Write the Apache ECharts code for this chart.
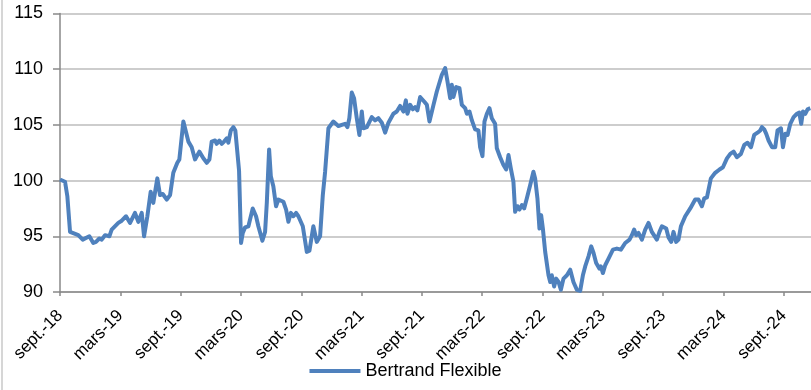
<!DOCTYPE html>
<html>
<head>
<meta charset="utf-8">
<script src="https://cdn.jsdelivr.net/npm/echarts@6/dist/echarts.min.js"></script>
<style>html,body{margin:0;padding:0;background:#fff}#c{width:811px;height:390px}</style>
</head>
<body>
<div id="c"></div>
<script>
// Tick labels every 6 months starting at sept. 2018
const tickLabels = ['sept.-18','mars-19','sept.-19','mars-20','sept.-20','mars-21','sept.-21','mars-22','sept.-22','mars-23','sept.-23','mars-24','sept.-24'];
const seriesName = 'Bertrand Flexible';
// x: months elapsed since September 2018
const months = [0.0,0.5,0.73,1.0,1.16,1.82,2.26,2.92,3.31,3.58,3.91,4.15,4.48,4.91,5.14,5.8,6.14,6.57,6.97,7.46,7.79,8.13,8.36,8.69,9.02,9.28,9.68,9.95,10.22,10.62,10.95,11.27,11.67,11.87,12.27,12.77,13.1,13.43,13.86,14.26,14.6,14.86,15.09,15.42,15.59,15.85,16.09,16.32,16.59,16.75,16.99,17.24,17.44,17.81,18.01,18.18,18.41,18.74,19.17,19.5,19.73,19.9,20.13,20.4,20.57,20.8,20.97,21.22,21.49,21.72,22.22,22.49,22.72,22.96,23.21,23.48,23.71,24.15,24.55,24.81,25.2,25.54,25.87,26.14,26.37,26.7,27.19,27.69,28.03,28.36,28.59,28.78,29.02,29.25,29.52,29.78,30.02,30.18,30.52,31.01,31.34,31.67,32.01,32.34,32.67,33.16,33.5,33.83,34.16,34.4,34.56,34.83,35.09,35.32,35.55,35.82,36.22,36.49,36.75,37.15,37.48,37.98,38.31,38.54,38.81,38.97,39.13,39.4,39.73,39.97,40.3,40.47,40.73,40.97,41.29,41.62,41.79,42.02,42.22,42.46,42.72,42.95,43.28,43.45,43.78,44.11,44.38,44.61,44.84,45.1,45.27,45.5,45.7,45.94,46.17,46.43,46.77,47.09,47.26,47.49,47.69,47.86,48.03,48.26,48.59,48.76,48.92,49.15,49.35,49.59,49.82,50.08,50.42,50.75,51.07,51.41,51.74,52.01,52.24,52.57,52.84,53.07,53.33,53.66,53.8,54.0,54.23,54.56,55.0,55.39,55.79,56.22,56.65,56.88,57.11,57.31,57.54,57.88,58.21,58.54,58.87,59.37,59.63,59.87,60.3,60.53,60.8,61.02,61.29,61.52,61.76,62.19,62.69,63.18,63.51,63.85,64.08,64.35,64.74,65.17,65.6,65.94,66.34,66.67,67.0,67.33,67.73,68.06,68.39,68.73,69.05,69.38,69.65,69.82,70.05,70.25,70.48,70.82,71.14,71.37,71.71,71.91,72.14,72.37,72.64,72.97,73.3,73.53,73.73,73.9,74.13,74.36,74.63];
const values = [100.1,99.9,98.6,95.4,95.3,95.1,94.7,95.0,94.4,94.5,94.8,94.7,95.1,95.0,95.6,96.2,96.4,96.8,96.2,97.1,96.3,97.1,95.0,96.8,99.0,98.0,100.2,98.7,98.8,98.3,98.7,100.7,101.6,101.9,105.3,103.5,103.0,101.9,102.6,102.0,101.6,101.9,103.5,103.6,103.3,103.6,103.3,103.5,103.8,103.4,104.5,104.8,104.5,100.9,94.4,95.3,95.8,95.9,97.5,96.8,95.9,96.0,94.6,95.4,98.0,102.8,100.4,99.5,97.7,98.3,98.1,97.4,96.3,97.1,96.8,97.1,96.8,95.9,93.6,93.7,95.9,94.5,95.0,98.7,100.8,104.7,105.3,104.9,105.0,105.1,104.8,105.6,107.9,107.4,105.6,104.1,106.2,104.7,104.8,105.7,105.4,105.6,105.2,104.3,105.2,106.0,106.2,106.7,106.2,107.2,106.0,106.8,106.4,106.6,106.3,107.5,107.1,106.8,105.3,106.8,108.0,109.5,110.1,108.9,107.4,108.6,107.5,108.4,108.3,106.8,106.5,106.0,106.2,105.4,104.6,104.5,103.0,102.2,105.3,106.0,106.5,105.6,105.1,102.9,102.1,101.4,101.0,102.3,101.1,99.9,97.2,97.7,97.4,97.8,97.5,98.4,99.6,100.8,100.2,98.4,95.7,96.9,95.7,93.6,91.5,90.9,91.5,90.5,91.2,90.9,90.2,91.2,91.5,92.0,90.9,90.2,90.1,91.5,92.3,93.2,94.1,93.5,92.6,92.1,92.3,91.7,92.4,93.0,93.8,93.9,93.8,94.4,94.7,95.1,95.6,95.1,95.3,94.7,95.6,96.2,95.4,94.7,95.4,95.9,95.7,94.9,94.5,95.4,94.5,94.7,95.9,96.8,97.5,98.3,98.3,97.7,98.4,98.5,100.2,100.7,101.0,101.2,102.0,102.4,102.6,102.1,102.4,103.2,103.4,103.0,104.1,104.3,104.5,104.8,104.6,104.2,103.6,103.0,103.0,104.5,104.7,103.0,104.2,104.1,105.1,105.7,106.0,106.1,105.1,106.2,106.0,106.4,106.5];

const chart = echarts.init(document.getElementById('c'), null, {renderer: 'canvas'});
const FONT = 'Liberation Sans';
chart.setOption({
  animation: false,
  backgroundColor: '#ffffff',
  textStyle: {fontFamily: FONT},
  graphic: [{type: 'line', shape: {x1: 2, y1: 0, x2: 2, y2: 390}, style: {stroke: '#c8c8c8', lineWidth: 1.5}}],
  grid: {left: 60, right: 0, top: 13.5, bottom: 98, containLabel: false, outerBoundsMode: 'none'},
  legend: {
    bottom: 5, left: 'center',
    icon: 'rect',
    itemWidth: 51, itemHeight: 4, itemGap: 10,
    textStyle: {fontSize: 18, color: '#000', fontFamily: FONT, padding: [0, 0, 0, 0]},
    data: [seriesName]
  },
  xAxis: {
    type: 'value', min: 0, max: 74.7, interval: 6,
    axisLine: {show: true, lineStyle: {color: '#898989', width: 1.5}},
    axisTick: {show: true, length: 4, lineStyle: {color: '#898989', width: 1.5}},
    splitLine: {show: false},
    axisLabel: {
      rotate: 45, margin: 21, fontSize: 17, color: '#000', fontFamily: FONT,
      showMaxLabel: false,
      formatter: function (v) {
        const i = Math.round(v / 6);
        return Math.abs(v - i * 6) < 1e-6 && tickLabels[i] ? tickLabels[i] : '';
      }
    }
  },
  yAxis: {
    type: 'value', min: 90, max: 115, interval: 5,
    axisLine: {show: true, lineStyle: {color: '#898989', width: 1.5}},
    axisTick: {show: true, length: 7, lineStyle: {color: '#898989', width: 1.5}},
    splitLine: {show: true, lineStyle: {color: '#bdbdbd', width: 1.5}},
    axisLabel: {fontSize: 18, color: '#000', margin: 17, fontFamily: FONT}
  },
  series: [{
    name: seriesName,
    type: 'line',
    symbol: 'none',
    data: months.map((m, i) => [m, values[i]]),
    lineStyle: {color: '#4F81BD', width: 4, join: 'round'},
    itemStyle: {color: '#4F81BD'},
    clip: false
  }]
});
</script>
</body>
</html>
